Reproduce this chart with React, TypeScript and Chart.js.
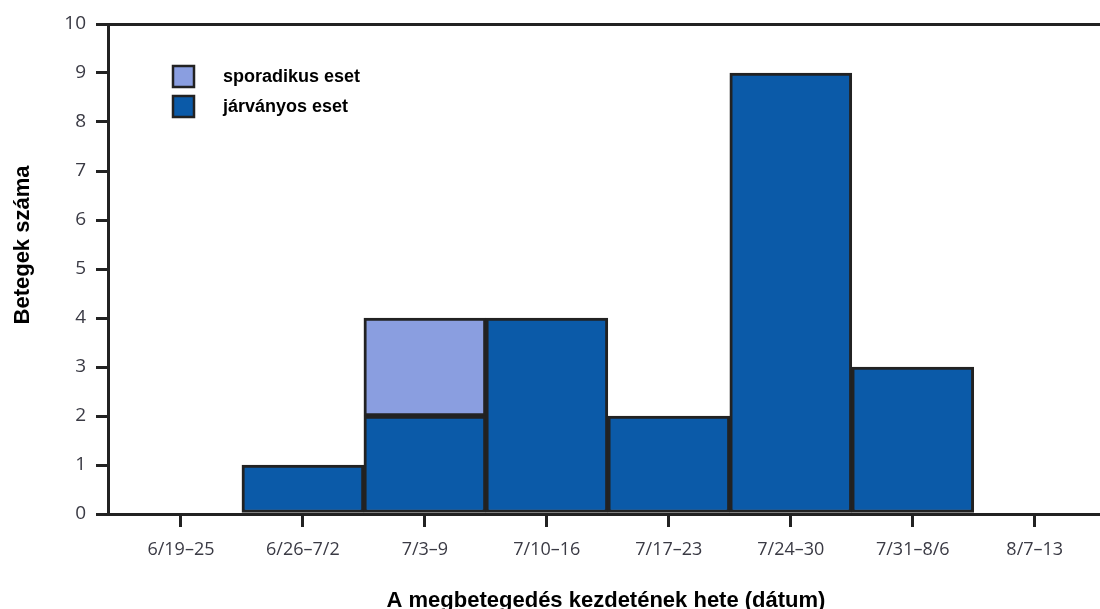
import React, { useEffect, useRef } from "react";
import { Chart, registerables } from "chart.js";

Chart.register(...registerables);

const weeks = ["6/19–25", "6/26–7/2", "7/3–9", "7/10–16", "7/17–23", "7/24–30", "7/31–8/6", "8/7–13"];
const epidemic = [0, 1, 2, 4, 2, 9, 3, 0];
const sporadic = [0, 0, 2, 0, 0, 0, 0, 0];
const yTicks = [0, 1, 2, 3, 4, 5, 6, 7, 8, 9, 10];
const legendLabels = ["sporadikus eset", "járványos eset"];
const xTitle = "A megbetegedés kezdetének hete (dátum)";
const yTitle = "Betegek száma";

const DARK = "#0b5aa8";
const LIGHT = "#8a9ee0";
const EDGE = "#222222";
const TITLE_FONT = "'Liberation Sans', Arial, sans-serif";

const decorPlugin = {
  id: "decor",
  afterDraw(chart: any) {
    const ctx = chart.ctx;
    const items = [
      { label: chart.data.datasets[1].label, color: chart.data.datasets[1].backgroundColor },
      { label: chart.data.datasets[0].label, color: chart.data.datasets[0].backgroundColor },
    ];
    ctx.save();
    items.forEach((it, i) => {
      const x = 173;
      const y = 66 + i * 30;
      ctx.fillStyle = it.color;
      ctx.fillRect(x, y, 21, 21);
      ctx.lineWidth = 2.5;
      ctx.strokeStyle = EDGE;
      ctx.strokeRect(x, y, 21, 21);
      ctx.fillStyle = "#000";
      ctx.font = `bold 18px ${TITLE_FONT}`;
      ctx.textBaseline = "middle";
      ctx.textAlign = "left";
      ctx.fillText(it.label, 223, y + 11);
    });
    // axis titles
    ctx.fillStyle = "#000";
    ctx.font = `bold 22px ${TITLE_FONT}`;
    ctx.textAlign = "center";
    ctx.textBaseline = "alphabetic";
    ctx.fillText(xTitle, 606, 607);
    ctx.translate(29, 245);
    ctx.rotate(-Math.PI / 2);
    ctx.fillText(yTitle, 0, 0);
    ctx.restore();
  },
};

export default function App() {
  const ref = useRef<HTMLCanvasElement | null>(null);
  useEffect(() => {
    if (!ref.current) return;
    const chart = new Chart(ref.current, {
      type: "bar",
      data: {
        datasets: [
          {
            label: legendLabels[1],
            data: epidemic.map((v, i) => ({ x: i, y: v })),
            backgroundColor: DARK,
            borderColor: EDGE,
            borderWidth: 3,
            borderSkipped: false,
            barPercentage: 1,
            categoryPercentage: 1,
          },
          {
            label: legendLabels[0],
            data: sporadic.map((v, i) => ({ x: i, y: v })),
            backgroundColor: LIGHT,
            borderColor: EDGE,
            borderWidth: 3,
            borderSkipped: false,
            barPercentage: 1,
            categoryPercentage: 1,
          },
        ],
      },
      options: {
        animation: false,
        responsive: true,
        maintainAspectRatio: false,
        layout: { padding: { top: 24, right: 0, left: 0, bottom: 0 } },
        plugins: { legend: { display: false }, tooltip: { enabled: false } },
        scales: {
          x: {
            type: "linear",
            stacked: true,
            offset: false,
            min: -0.598,
            max: 7.535,
            afterFit: (s: any) => { s.height = 95; },
            afterBuildTicks: (s: any) => { s.ticks = weeks.map((_, i) => ({ value: i })); },
            ticks: {
              autoSkip: false,
              maxRotation: 0,
              padding: 12,
              color: "#3a3a44",
              font: { family: "'Open Sans', sans-serif", size: 18 },
              callback: (v: any) => weeks[v as number] ?? "",
            },
            grid: { offset: false, drawOnChartArea: false, drawTicks: true, tickLength: 13, tickColor: EDGE, lineWidth: 3 },
            border: { display: true, color: EDGE, width: 3 },
            title: { display: false },
          },
          y: {
            stacked: true,
            min: 0,
            max: 10,
            afterFit: (s: any) => { s.width = 108; },
            afterBuildTicks: (s: any) => { s.ticks = yTicks.map((v) => ({ value: v })); },
            ticks: {
              padding: 10,
              color: "#3a3a44",
              font: { family: "'Open Sans', sans-serif", size: 19 },
            },
            grid: {
              drawOnChartArea: true,
              drawTicks: true,
              tickLength: 12,
              tickColor: EDGE,
              lineWidth: 3,
              color: (c: any) => (c.tick && c.tick.value === 10 ? EDGE : "rgba(0,0,0,0)"),
            },
            border: { display: true, color: EDGE, width: 3 },
            title: { display: false },
          },
        },
      },
      plugins: [decorPlugin],
    } as any);
    return () => chart.destroy();
  }, []);
  return (
    <div style={{ position: "fixed", left: 0, top: 0, width: 1100, height: 609, background: "#fff" }}>
      <canvas ref={ref} />
    </div>
  );
}
